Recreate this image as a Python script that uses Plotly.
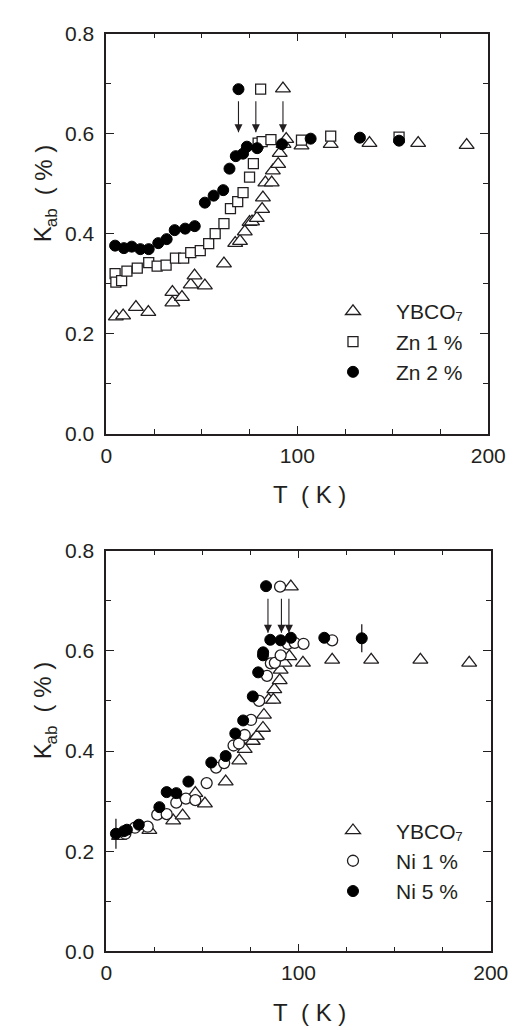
import plotly.graph_objects as go

INK = "#231f20"
FONT = "Liberation Sans, Arial, Helvetica, sans-serif"

# ---------------- Top panel: Zn substitution ----------------
T_ybco_a = [5.0, 8.8, 15.5, 22.0, 34.6, 34.6, 39.6, 44.2, 46.2, 51.6, 61.6, 67.5, 70.0, 72.5,
            75.0, 76.3, 78.8, 81.6, 82.0, 83.3, 86.6, 87.2, 90.0, 90.8, 92.8, 94.2, 102.2,
            117.5, 137.8, 163.3, 188.7]
K_ybco_a = [0.234, 0.236, 0.253, 0.243, 0.283, 0.262, 0.273, 0.298, 0.316, 0.296, 0.340, 0.381,
            0.385, 0.404, 0.423, 0.424, 0.431, 0.449, 0.472, 0.502, 0.502, 0.526, 0.539, 0.561,
            0.579, 0.589, 0.576, 0.579, 0.581, 0.581, 0.577]

T_zn1 = [4.6, 5.0, 8.0, 10.8, 16.2, 22.2, 26.6, 31.3, 36.2, 40.5, 44.2, 49.2, 53.6, 57.0, 61.6,
         65.0, 68.8, 71.6, 75.0, 77.0, 79.5, 81.6, 86.2, 102.2, 117.5, 153.3]
K_zn1 = [0.320, 0.303, 0.306, 0.325, 0.331, 0.342, 0.335, 0.337, 0.351, 0.351, 0.362, 0.366,
         0.380, 0.400, 0.420, 0.450, 0.464, 0.482, 0.513, 0.540, 0.581, 0.584, 0.588, 0.587,
         0.595, 0.593]

T_zn2 = [4.6, 9.2, 13.3, 17.8, 22.2, 27.2, 31.6, 35.8, 41.3, 46.3, 51.6, 56.2, 61.2, 64.5,
         67.8, 71.6, 73.6, 79.0, 92.0, 107.0, 132.8, 153.3]
K_zn2 = [0.376, 0.371, 0.374, 0.369, 0.369, 0.381, 0.389, 0.407, 0.410, 0.415, 0.462, 0.476,
         0.487, 0.530, 0.555, 0.560, 0.574, 0.571, 0.579, 0.590, 0.592, 0.586]

# Tc markers and arrows (top): YBCO7, Zn 1 %, Zn 2 %
Tc_mark_T_a = [92.5, 80.8, 69.2]
Tc_mark_K_a = [0.690, 0.689, 0.689]
Tc_arrow_T_a = [92.5, 78.3, 69.2]
arrow_from_a = 0.665
arrow_to_a = 0.603

# ---------------- Bottom panel: Ni substitution ----------------
T_ybco_b = [6.6, 22.4, 34.8, 39.7, 46.3, 51.3, 62.1, 69.2, 72.0, 76.2, 78.3, 81.5, 82.0, 84.5,
            86.9, 87.4, 90.2, 90.7, 92.7, 95.2, 102.3, 117.5, 137.8, 163.4, 188.8]
K_ybco_b = [0.230, 0.242, 0.261, 0.271, 0.316, 0.295, 0.339, 0.381, 0.404, 0.420, 0.430, 0.446,
            0.472, 0.502, 0.502, 0.523, 0.541, 0.562, 0.576, 0.589, 0.576, 0.582, 0.582, 0.582,
            0.576]

T_ni1 = [9.9, 14.9, 21.5, 26.5, 31.4, 36.4, 41.4, 46.3, 52.2, 57.1, 61.3, 66.2, 69.0, 72.0,
         75.3, 79.5, 83.6, 85.6, 87.7, 90.7, 94.4, 98.0, 102.6, 117.5]
K_ni1 = [0.235, 0.247, 0.249, 0.273, 0.274, 0.297, 0.305, 0.302, 0.336, 0.367, 0.376, 0.411,
         0.415, 0.432, 0.462, 0.500, 0.550, 0.575, 0.576, 0.591, 0.614, 0.616, 0.614, 0.621]

T_ni5 = [5.0, 9.1, 10.7, 16.9, 27.6, 31.4, 36.4, 42.7, 54.6, 62.1, 67.1, 71.2, 76.2, 79.0,
         81.5, 81.6, 85.3, 90.7, 96.0, 113.4, 132.9]
K_ni5 = [0.235, 0.240, 0.243, 0.253, 0.288, 0.318, 0.316, 0.339, 0.377, 0.390, 0.435, 0.461,
         0.509, 0.557, 0.591, 0.597, 0.622, 0.621, 0.626, 0.626, 0.625]
dK_ni5 = [0.030, 0, 0, 0, 0, 0, 0, 0, 0, 0, 0, 0, 0, 0, 0, 0, 0, 0, 0, 0, 0.028]

# Tc markers and arrows (bottom): YBCO7, Ni 1 %, Ni 5 %
Tc_mark_T_b = [96.0, 90.4, 83.1]
Tc_mark_K_b = [0.728, 0.728, 0.729]
Tc_arrow_T_b = [95.0, 91.1, 84.1]
arrow_from_b = 0.704
arrow_to_b = 0.636

names_top = ["YBCO\u2087", "Zn 1 %", "Zn 2 %"]
names_bot = ["YBCO\u2087", "Ni 1 %", "Ni 5 %"]

x_ticks = [0, 100, 200]
y_ticks = [0.0, 0.2, 0.4, 0.6, 0.8]

# ---------------- styles ----------------
TRI = dict(symbol="triangle-up", size=13, color="white", line=dict(color=INK, width=1.3))
SQ = dict(symbol="square", size=10, color="white", line=dict(color=INK, width=1.3))
OC = dict(symbol="circle", size=11, color="white", line=dict(color=INK, width=1.3))
FC = dict(symbol="circle", size=11, color="black", line=dict(color="black", width=1))
HEAD = dict(symbol="arrow-down", size=8, color=INK, line=dict(width=0))

fig = go.Figure()


def pts(x, y, marker, xa, ya, name=None, legend=None, err=None):
    kw = {}
    if err is not None:
        kw["error_y"] = dict(type="data", array=err, visible=True, width=0,
                             thickness=1.3, color=INK)
    if name is not None:
        kw.update(name=name, showlegend=True, legend=legend)
    else:
        kw.update(showlegend=False)
    fig.add_trace(go.Scatter(x=x, y=y, mode="markers", marker=marker, xaxis=xa, yaxis=ya,
                             hoverinfo="skip", **kw))


def arrow(T, y0, y1, xa, ya):
    fig.add_trace(go.Scatter(x=[T, T], y=[y0, y1], mode="lines", xaxis=xa, yaxis=ya,
                             line=dict(color=INK, width=1.1), showlegend=False,
                             hoverinfo="skip"))
    pts([T], [y1], HEAD, xa, ya)


# top panel
pts(T_ybco_a, K_ybco_a, TRI, "x", "y", names_top[0], "legend")
pts(T_zn1, K_zn1, SQ, "x", "y", names_top[1], "legend")
pts(T_zn2, K_zn2, FC, "x", "y", names_top[2], "legend")
for T, K, m in zip(Tc_mark_T_a, Tc_mark_K_a, [TRI, SQ, FC]):
    pts([T], [K], m, "x", "y")
for T in Tc_arrow_T_a:
    arrow(T, arrow_from_a, arrow_to_a, "x", "y")

# bottom panel
pts(T_ybco_b, K_ybco_b, TRI, "x2", "y2", names_bot[0], "legend2")
pts(T_ni1, K_ni1, OC, "x2", "y2", names_bot[1], "legend2")
pts(T_ni5, K_ni5, FC, "x2", "y2", names_bot[2], "legend2", err=dK_ni5)
for T, K, m in zip(Tc_mark_T_b, Tc_mark_K_b, [TRI, OC, FC]):
    pts([T], [K], m, "x2", "y2")
for T in Tc_arrow_T_b:
    arrow(T, arrow_from_b, arrow_to_b, "x2", "y2")

W, H = 531, 1030
annotations = []


def ann(px, py, text, size, angle=0):
    annotations.append(dict(x=px / W, y=1 - py / H, xref="paper", yref="paper", text=text,
                            textangle=angle, showarrow=False, xanchor="center",
                            yanchor="middle", font=dict(size=size, color=INK, family=FONT)))


# y-axis titles  "K_ab ( % )" built from pieces (rotated, reading upwards)
for cy in [178, 707]:
    ann(30, cy + 41.4, "K", 24, -90)
    ann(39.5, cy + 24.0, "ab", 17, -90)
    ann(30, cy - 17.4, "\u00a0\u00a0(\u00a0%\u00a0)", 24, -90)

# x-axis titles
for cy in [485, 1015]:
    ann(309, cy, "T\u00a0\u00a0(\u00a0K\u00a0)", 24)


def xax(domain, anchor):
    return dict(domain=domain, anchor=anchor, range=[0, 200], tickvals=x_ticks,
                ticks="inside", ticklen=8, tickwidth=1.3, tickcolor=INK,
                minor=dict(dtick=25, ticks="inside", ticklen=5, tickwidth=1.3, tickcolor=INK),
                showline=True, linewidth=1.6, linecolor=INK, mirror="ticks",
                showgrid=False, zeroline=False, ticklabelstandoff=2,
                tickfont=dict(size=21, color=INK, family=FONT))


def yax(domain, anchor):
    return dict(domain=domain, anchor=anchor, range=[0, 0.8], tickvals=y_ticks,
                tickformat=".1f", ticks="inside", ticklen=8, tickwidth=1.3, tickcolor=INK,
                minor=dict(dtick=0.1, ticks="inside", ticklen=5, tickwidth=1.3, tickcolor=INK),
                showline=True, linewidth=1.6, linecolor=INK, mirror="ticks",
                showgrid=False, zeroline=False, ticklabelstandoff=6,
                tickfont=dict(size=21, color=INK, family=FONT))


def leg(ytop):
    return dict(x=0.5838, y=ytop, xanchor="left", yanchor="top", itemwidth=76,
                bgcolor="rgba(0,0,0,0)", borderwidth=0, traceorder="normal",
                font=dict(size=21, color=INK, family=FONT))


fig.update_layout(
    width=W, height=H,
    margin=dict(l=0, r=0, t=0, b=0),
    paper_bgcolor="white", plot_bgcolor="white",
    showlegend=True,
    font=dict(family=FONT, color=INK),
    xaxis=xax([0.1821, 0.9354], "y"),
    yaxis=yax([0.5893, 0.9864], "x"),
    xaxis2=xax([0.1821, 0.9403], "y2"),
    yaxis2=yax([0.0750, 0.4731], "x2"),
    legend=leg(0.7308),
    legend2=leg(0.2152),
    annotations=annotations,
)

fig.write_html("out.html")
